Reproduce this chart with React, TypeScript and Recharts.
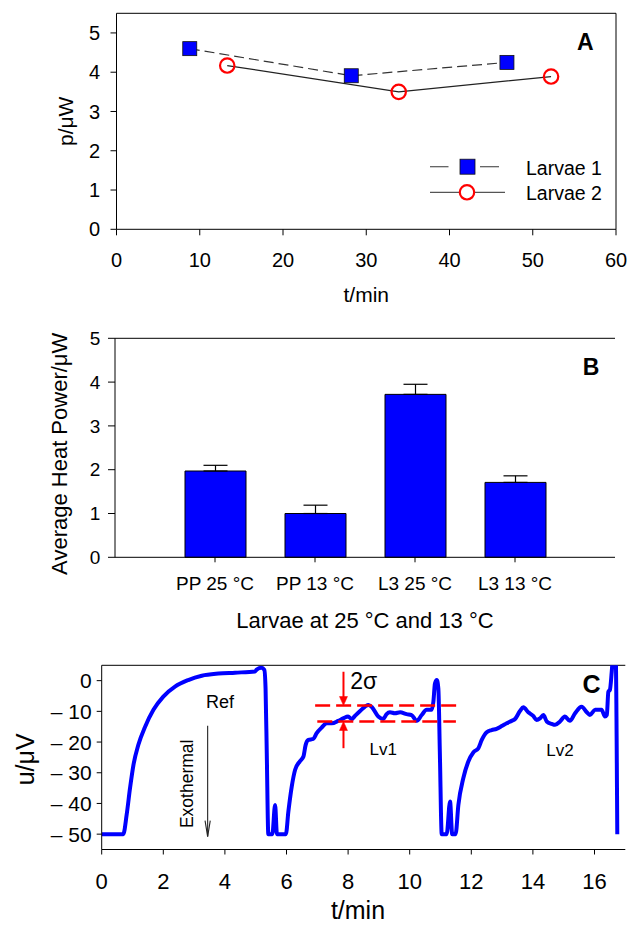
import React from 'react';
import {
  LineChart,
  BarChart,
  Line,
  Bar,
  XAxis,
  YAxis,
  ErrorBar,
  ReferenceLine,
  ReferenceDot,
  Legend,
} from 'recharts';

const FONT = '"Liberation Sans", Arial, Helvetica, sans-serif';

// ---- Panel A: heat power of two larvae over time ----
const larvae1Time = [8.8, 28.2, 46.9];
const larvae1Power = [4.6, 3.91, 4.25];
const larvae2Time = [13.3, 33.9, 52.2];
const larvae2Power = [4.17, 3.5, 3.89];
const timeTicksA = [0, 10, 20, 30, 40, 50, 60];
const powerTicksA = [0, 1, 2, 3, 4, 5];

// ---- Panel B: average heat power per stage / temperature ----
const stageLabels = ['PP 25 °C', 'PP 13 °C', 'L3 25 °C', 'L3 13 °C'];
const avgHeatPower = [1.97, 1.0, 3.72, 1.71];
const heatPowerError = [0.13, 0.19, 0.23, 0.15];
const powerTicksB = [0, 1, 2, 3, 4, 5];

// ---- Panel C: raw sensor voltage trace ----
const signalTime = [
  0, 0.7, 0.81, 0.92, 1.03, 1.19, 1.41, 1.68, 2.0, 2.38, 2.81, 3.25, 3.79, 4.33,
  4.98, 5.03, 5.19, 5.28, 5.32, 5.36, 5.41, 5.54, 5.63, 5.69, 5.98, 6.06, 6.17,
  6.28, 6.44, 6.55, 6.62, 6.71, 6.87, 6.98, 7.14, 7.31, 7.47, 7.68, 7.84, 8.0,
  8.12, 8.22, 8.39, 8.66, 8.77, 8.98, 9.14, 9.25, 9.36, 9.52, 9.69, 9.9, 10.06,
  10.23, 10.39, 10.55, 10.71, 10.77, 10.82, 10.88, 10.93, 10.98, 11.04, 11.2,
  11.31, 11.38, 11.49, 11.58, 11.74, 11.9, 12.07, 12.23, 12.34, 12.5, 12.66,
  12.82, 12.99, 13.15, 13.31, 13.42, 13.58, 13.69, 13.85, 14.01, 14.12, 14.23,
  14.34, 14.45, 14.61, 14.72, 14.88, 15.04, 15.2, 15.37, 15.58, 15.75, 15.85,
  16.02, 16.23, 16.34, 16.4, 16.45, 16.5, 16.56, 16.63, 16.68, 16.74,
];
const signalVoltage = [
  -50, -50, -43.7, -35, -27.5, -20.9, -15, -9.5, -5.2, -1.95, 0.2, 1.6, 2.3, 2.6,
  3.0, 3.6, 4.2, 3.5, -2.5, -24, -50, -50, -40.5, -50, -50, -42.7, -34.5,
  -29, -26.2, -24.7, -21, -19.3, -19, -17.1, -15.3, -13.9, -13.9, -13.1, -12.3, -11.7,
  -12.5, -11.5, -9.9, -7.9, -8.6, -11.7, -12.5, -10.9, -10.3, -10.6, -10.3, -10.9, -11.2,
  -13.1, -11.2, -9.5, -9.5, -6.8, -0.9, 0.2, -2.5, -24, -50, -50,
  -39.4, -50, -50, -40.5, -31.8, -26.4, -23.3, -22, -19.3, -16.8, -16.1,
  -15.7, -14.8, -13.9, -13.1, -12.5, -9.9, -8.7, -10.3, -11.5, -12.8, -12.3,
  -11.2, -13.3, -14.1, -14.4, -13.3, -11.7, -13.1, -10.6, -8.5, -10.3, -11.2,
  -9.5, -9.5, -11.7, -11.2, -3.6, -3.0, 2.9, 12, 12, -50,
];
const timeTicksC = [0, 2, 4, 6, 8, 10, 12, 14, 16];
const voltageTicksC = [-50, -40, -30, -20, -10, 0];
// 2-sigma noise band around level Lv1
const sigmaUpper = -8.1;
const sigmaLower = -13.3;

const larvae1Data = larvae1Time.map((t, i) => ({ t, p: larvae1Power[i] }));
const larvae2Data = larvae2Time.map((t, i) => ({ t, p: larvae2Power[i] }));
const barData = stageLabels.map((cat, i) => ({
  cat,
  v: avgHeatPower[i],
  err: [0, heatPowerError[i]],
}));
const signalData = signalTime.map((t, i) => ({ t, u: signalVoltage[i] }));

const black = '#000';

const SquareDot = (props: any) => {
  const { cx, cy, index } = props;
  if (cx == null || cy == null) return null;
  return (
    <rect
      key={`sq-${index}`}
      x={cx - 7}
      y={cy - 7}
      width={14}
      height={14}
      fill="#0000FF"
      stroke="#111"
      strokeWidth={0.8}
    />
  );
};

// arrow along a reference segment, head at the second point
const filledArrow = (color: string) => (props: any) => {
  const { x1, y1, x2, y2 } = props;
  const dir = Math.sign(y2 - y1) || 1;
  const len = 9;
  const hw = 4;
  return (
    <g>
      <line x1={x1} y1={y1} x2={x2} y2={y2 - dir * len * 0.5} stroke={color} strokeWidth={2} />
      <polygon
        points={`${x2 - hw},${y2 - dir * len} ${x2},${y2} ${x2 + hw},${y2 - dir * len}`}
        fill={color}
        stroke={color}
        strokeWidth={0.5}
      />
    </g>
  );
};

const openArrow = (props: any) => {
  const { x1, y1, x2, y2 } = props;
  const dir = Math.sign(y2 - y1) || 1;
  return (
    <g>
      <line x1={x1} y1={y1} x2={x2} y2={y2} stroke="#222" strokeWidth={1.1} />
      <polyline
        points={`${x2 - 2.6},${y2 - dir * 16} ${x2},${y2} ${x2 + 2.6},${y2 - dir * 16}`}
        fill="none"
        stroke="#222"
        strokeWidth={1.1}
      />
    </g>
  );
};

const LegendA = () => (
  <svg width={190} height={60} style={{ overflow: 'visible', display: 'block' }}>
    <line x1={5} y1={16.7} x2={23.5} y2={16.7} stroke="#555" strokeWidth={1.2} />
    <line x1={55} y1={16.7} x2={74} y2={16.7} stroke="#555" strokeWidth={1.2} />
    <rect x={35} y={9.2} width={15} height={15} fill="#0000FF" stroke="#111" strokeWidth={0.8} />
    <text x={101} y={25} fontSize={19.5} fill={black} fontFamily={FONT}>
      Larvae 1
    </text>
    <line x1={5} y1={42.3} x2={80} y2={42.3} stroke="#555" strokeWidth={1.2} />
    <circle cx={42} cy={42.3} r={7.2} fill="#fff" stroke="#FF0000" strokeWidth={2.2} />
    <text x={101} y={50} fontSize={19.5} fill={black} fontFamily={FONT}>
      Larvae 2
    </text>
  </svg>
);

const fmtVoltage = (v: number) => (v === 0 ? '0' : `– ${Math.abs(v)}`);

export default function App() {
  return (
    <div
      style={{
        position: 'absolute',
        left: 0,
        top: 0,
        width: 630,
        height: 925,
        background: '#fff',
        fontFamily: FONT,
      }}
    >
      {/* Panel A */}
      <div style={{ position: 'absolute', left: 0, top: 0 }}>
        <LineChart
          width={630}
          height={310}
          margin={{ top: 13.3, right: 14, bottom: 5.7, left: 46.5 }}
        >
          <XAxis
            type="number"
            dataKey="t"
            domain={[0, 60]}
            ticks={timeTicksA}
            height={75}
            stroke={black}
            tickSize={6}
            tickMargin={17}
            tick={{ fill: black, fontSize: 20 }}
            label={{ value: 't/min', position: 'insideBottom', offset: 2.3, fill: black, fontSize: 21 }}
          />
          <YAxis
            type="number"
            dataKey="p"
            domain={[0, 5.5]}
            ticks={powerTicksA}
            width={70}
            stroke={black}
            tickSize={6}
            tickMargin={10.5}
            tick={{ fill: black, fontSize: 20 }}
            label={{
              value: 'p/μW',
              angle: -90,
              position: 'insideLeft',
              offset: 19,
              fill: black,
              fontSize: 21,
              style: { textAnchor: 'middle' },
            }}
          />
          <ReferenceLine y={5.5} stroke={black} strokeWidth={1} />
          <ReferenceLine x={60} stroke={black} strokeWidth={1} />
          <Line
            data={larvae1Data}
            dataKey="p"
            name="Larvae 1"
            type="linear"
            stroke="#333"
            strokeWidth={1.2}
            strokeDasharray="10 5"
            dot={SquareDot}
            activeDot={false}
            isAnimationActive={false}
          />
          <Line
            data={larvae2Data}
            dataKey="p"
            name="Larvae 2"
            type="linear"
            stroke="#222"
            strokeWidth={1.2}
            dot={{ r: 7.2, fill: 'none', stroke: '#FF0000', strokeWidth: 2.2 }}
            activeDot={false}
            isAnimationActive={false}
          />
          <ReferenceDot
            x={56.3}
            y={4.78}
            r={0}
            fill="none"
            stroke="none"
            label={{ value: 'A', position: 'center', fontSize: 23, fontWeight: 'bold', fill: black }}
          />
          <Legend
            layout="vertical"
            align="center"
            verticalAlign="middle"
            wrapperStyle={{ left: 425, top: 150, width: 190, height: 60 }}
            content={() => <LegendA />}
          />
        </LineChart>
      </div>

      {/* Panel B */}
      <div style={{ position: 'absolute', left: 0, top: 310 }}>
        <BarChart
          width={630}
          height={330}
          data={barData}
          margin={{ top: 28.3, right: 15, bottom: 2.7, left: 45 }}
          barSize={61}
        >
          <XAxis
            dataKey="cat"
            type="category"
            padding={{ left: 50, right: 50 }}
            height={80}
            stroke={black}
            tickSize={5}
            tickMargin={14.2}
            tick={{ fill: black, fontSize: 19 }}
            label={{
              value: 'Larvae at 25 °C and 13 °C',
              position: 'insideBottom',
              offset: 9.3,
              fill: black,
              fontSize: 22,
            }}
          />
          <YAxis
            type="number"
            domain={[0, 5]}
            ticks={powerTicksB}
            width={70}
            stroke={black}
            tickSize={7}
            tickMargin={7.6}
            tick={{ fill: black, fontSize: 19 }}
            label={{
              value: 'Average Heat Power/μW',
              angle: -90,
              position: 'insideLeft',
              offset: 14.5,
              dy: 6,
              fill: black,
              fontSize: 22,
              style: { textAnchor: 'middle' },
            }}
          />
          <YAxis
            yAxisId="right"
            orientation="right"
            type="number"
            domain={[0, 5]}
            width={0}
            tick={false}
            tickLine={false}
            stroke={black}
          />
          <ReferenceLine y={5} stroke={black} strokeWidth={1} />
          <Bar dataKey="v" fill="#0000FF" stroke={black} strokeWidth={1} isAnimationActive={false}>
            <ErrorBar dataKey="err" width={12} stroke={black} strokeWidth={1.2} direction="y" />
          </Bar>
          <ReferenceDot
            x="L3 13 °C"
            y={4.35}
            r={0}
            fill="none"
            stroke="none"
            label={{ value: 'B', position: 'center', dx: 76, fontSize: 23, fontWeight: 'bold', fill: black }}
          />
        </BarChart>
      </div>

      {/* Panel C */}
      <div style={{ position: 'absolute', left: 0, top: 630 }}>
        <LineChart
          width={630}
          height={295}
          data={signalData}
          margin={{ top: 35.3, right: 4.7, bottom: 0.5, left: 21.7 }}
        >
          <XAxis
            type="number"
            dataKey="t"
            domain={[0, 17]}
            ticks={timeTicksC}
            allowDataOverflow
            height={75}
            stroke={black}
            tickSize={5}
            tickMargin={19.2}
            tick={{ fill: black, fontSize: 22 }}
            label={{ value: 't/min', position: 'insideBottom', offset: 5.5, dx: -5.5, fill: black, fontSize: 25 }}
          />
          <YAxis
            type="number"
            domain={[-55, 5]}
            ticks={voltageTicksC}
            allowDataOverflow
            width={80}
            stroke={black}
            tickSize={5}
            tickMargin={5}
            tickFormatter={fmtVoltage}
            tick={{ fill: black, fontSize: 21 }}
            label={{
              value: 'u/μV',
              angle: -90,
              position: 'insideLeft',
              offset: 3.3,
              dy: 2,
              fill: black,
              fontSize: 25,
              style: { textAnchor: 'middle' },
            }}
          />
          <ReferenceLine y={5} stroke={black} strokeWidth={1} />
          <Line
            dataKey="u"
            type="monotone"
            stroke="#0000FF"
            strokeWidth={4}
            dot={false}
            activeDot={false}
            isAnimationActive={false}
          />
          <ReferenceLine
            segment={[{ x: 6.93, y: sigmaUpper }, { x: 11.57, y: sigmaUpper }]}
            stroke="#FF0000"
            strokeWidth={2.5}
            strokeDasharray="15 6"
          />
          <ReferenceLine
            segment={[{ x: 7.0, y: sigmaLower }, { x: 11.5, y: sigmaLower }]}
            stroke="#FF0000"
            strokeWidth={2.5}
            strokeDasharray="15 6"
          />
          <ReferenceLine
            segment={[{ x: 7.85, y: 2.9 }, { x: 7.85, y: sigmaUpper }]}
            shape={filledArrow('#FF0000')}
          />
          <ReferenceLine
            segment={[{ x: 7.85, y: -22 }, { x: 7.85, y: sigmaLower }]}
            shape={filledArrow('#FF0000')}
          />
          <ReferenceLine
            segment={[{ x: 3.44, y: -14.7 }, { x: 3.44, y: -50.8 }]}
            shape={openArrow}
          />
          <ReferenceDot
            x={2.76}
            y={-33.6}
            r={0}
            fill="none"
            stroke="none"
            label={{ value: 'Exothermal', position: 'center', angle: -90, fontSize: 17.5, fill: black }}
          />
          <ReferenceDot
            x={3.84}
            y={-6.9}
            r={0}
            fill="none"
            stroke="none"
            label={{ value: 'Ref', position: 'center', fontSize: 18, fill: black }}
          />
          <ReferenceDot
            x={8.51}
            y={0}
            r={0}
            fill="none"
            stroke="none"
            label={{ value: '2σ', position: 'center', fontSize: 23, fill: black }}
          />
          <ReferenceDot
            x={9.14}
            y={-22.1}
            r={0}
            fill="none"
            stroke="none"
            label={{ value: 'Lv1', position: 'center', fontSize: 17, fill: black }}
          />
          <ReferenceDot
            x={14.88}
            y={-22.6}
            r={0}
            fill="none"
            stroke="none"
            label={{ value: 'Lv2', position: 'center', fontSize: 17, fill: black }}
          />
          <ReferenceDot
            x={15.9}
            y={-1}
            r={0}
            fill="none"
            stroke="none"
            label={{ value: 'C', position: 'center', fontSize: 25, fontWeight: 'bold', fill: black }}
          />
        </LineChart>
      </div>
    </div>
  );
}
